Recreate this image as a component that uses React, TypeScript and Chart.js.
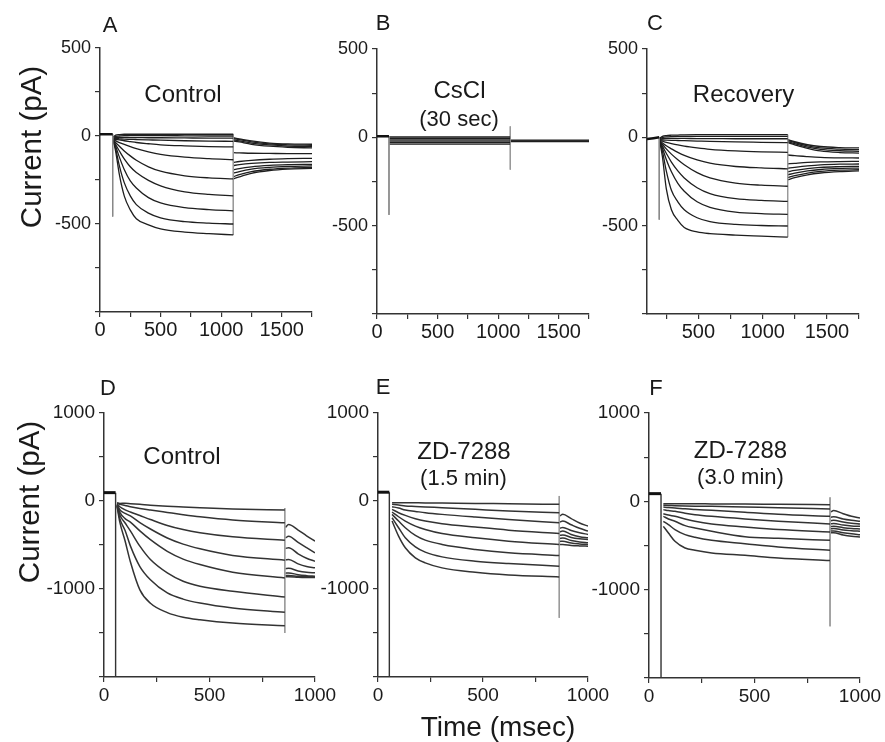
import React, { useEffect, useRef } from "react";
import { Chart, registerables } from "chart.js";
Chart.register(...registerables);

// ================= DATA =================
// ---- Panel A: Control (top) ----
const A_preT = [0, 105];
const A_preI = [10, 10];
const A_onset = [105, -458];
const A_stepT = [110, 130, 160, 200, 250, 300, 400, 500, 700, 900, 1100];
const A_step = [
  [-5, 5, 8, 10, 10, 10, 10, 10, 10, 10, 10],
  [-8, -2, 0, 2, 2, 2, 2, 2, 1, 0, 0],
  [-12, -8, -8, -8, -9, -9, -10, -10, -11, -12, -12],
  [-15, -15, -16, -18, -19, -20, -22, -24, -27, -29, -30],
  [-18, -20, -22, -27, -32, -37, -44, -50, -56, -60, -62],
  [-20, -28, -38, -48, -60, -72, -90, -104, -120, -129, -135],
  [-22, -38, -58, -85, -113, -138, -175, -200, -226, -238, -244],
  [-25, -50, -85, -130, -175, -208, -252, -283, -317, -332, -340],
  [-25, -60, -120, -190, -255, -295, -350, -380, -407, -418, -425],
  [-25, -75, -170, -265, -340, -390, -438, -465, -487, -495, -500],
  [-25, -90, -220, -340, -420, -470, -505, -528, -546, -555, -562],
];
const A_end = [1100, 10, -562];
const A_tailT = [1100, 1150, 1250, 1400, 1550, 1750];
const A_tail = [
  [-10, -16, -28, -40, -45, -47],
  [-15, -21, -33, -45, -50, -53],
  [-22, -28, -40, -51, -57, -60],
  [-28, -34, -47, -58, -64, -68],
  [-95, -96, -98, -99, -100, -100],
  [-150, -145, -138, -132, -129, -127],
  [-168, -163, -156, -150, -148, -146],
  [-193, -185, -175, -167, -163, -161],
  [-212, -202, -188, -178, -173, -170],
  [-231, -220, -203, -189, -182, -178],
  [-244, -232, -212, -196, -188, -184],
];

// ---- Panel B: CsCl (30 sec) ----
const B_preT = [0, 99];
const B_preI = [6, 6];
const B_onset = [99, -439];
const B_stepT = [100, 1099];
const B_step = [
  [2, 2],
  [-6, -6],
  [-14, -14],
  [-22, -22],
  [-30, -30],
  [-38, -38],
];
const B_end = [1100, 62, -183];
const B_tailT = [1100, 1750];
const B_tail = [
  [-16, -16],
  [-20, -20],
  [-24, -24],
];

// ---- Panel C: Recovery ----
const C_preT = [100, 150, 195];
const C_preI = [-10, -5, 0];
const C_onset = [195, -466];
const C_stepT = [200, 220, 250, 290, 340, 390, 490, 590, 790, 990, 1195];
const C_step = [
  [-5, 5, 10, 12, 13, 14, 15, 15, 15, 15, 15],
  [-8, -2, 2, 4, 5, 5, 5, 5, 5, 5, 5],
  [-12, -8, -6, -6, -6, -6, -7, -7, -8, -8, -8],
  [-15, -15, -16, -17, -18, -19, -21, -23, -26, -28, -30],
  [-18, -22, -28, -35, -43, -50, -60, -68, -77, -82, -85],
  [-20, -32, -48, -65, -85, -102, -128, -146, -165, -173, -178],
  [-22, -40, -65, -95, -127, -155, -200, -230, -259, -271, -277],
  [-25, -50, -90, -140, -190, -230, -285, -318, -347, -357, -362],
  [-25, -62, -125, -195, -260, -305, -365, -396, -423, -432, -436],
  [-25, -78, -190, -300, -365, -410, -455, -477, -493, -499, -502],
  [-25, -110, -290, -410, -470, -510, -535, -545, -553, -559, -565],
];
const C_end = [1195, 15, -565];
const C_tailT = [1195, 1250, 1350, 1450, 1600, 1750];
const C_tail = [
  [-13, -25, -42, -52, -58, -60],
  [-18, -30, -48, -60, -67, -70],
  [-24, -36, -55, -68, -76, -79],
  [-30, -42, -62, -77, -86, -89],
  [-100, -104, -109, -113, -116, -117],
  [-150, -147, -142, -139, -137, -136],
  [-175, -170, -162, -156, -152, -151],
  [-195, -187, -177, -170, -166, -164],
  [-212, -203, -190, -182, -176, -174],
  [-228, -217, -202, -193, -186, -183],
  [-240, -228, -212, -202, -194, -190],
];

// ---- Panel D: Control (bottom) ----
const D_preT = [0, 55];
const D_preI = [95, 95];
const D_onset = [55, -2000];
const D_stepT = [62, 75, 100, 125, 170, 220, 300, 375, 455, 610, 857];
const D_step = [
  [-20, -27, -25, -30, -38, -48, -60, -68, -76, -90, -103],
  [-25, -38, -50, -65, -85, -103, -130, -155, -179, -215, -247],
  [-35, -65, -100, -125, -165, -210, -278, -325, -361, -407, -445],
  [-40, -100, -140, -170, -245, -318, -420, -490, -543, -619, -673],
  [-45, -130, -200, -240, -340, -440, -572, -660, -722, -809, -874],
  [-50, -160, -250, -340, -513, -665, -817, -912, -969, -1026, -1091],
  [-55, -200, -335, -510, -745, -895, -1045, -1115, -1160, -1216, -1265],
  [-60, -240, -455, -690, -1010, -1162, -1268, -1320, -1349, -1387, -1417],
];
const D_end = [857, -80, -1500];
const D_tailT = [860, 875, 920, 960, 1000];
const D_tail = [
  [-300, -266, -330, -395, -456],
  [-420, -400, -470, -530, -589],
  [-540, -530, -600, -650, -684],
  [-670, -665, -715, -745, -760],
  [-770, -765, -795, -810, -816],
  [-820, -817, -838, -848, -854],
  [-848, -847, -856, -860, -862],
  [-860, -860, -866, -869, -870],
];

// ---- Panel E: ZD-7288 (1.5 min) ----
const E_preT = [0, 54];
const E_preI = [100, 100];
const E_onset = [54, -2000];
const E_stepT = [67, 98, 130, 178, 225, 305, 463, 622, 863];
const E_step = [
  [-19, -19, -20, -21, -22, -24, -27, -32, -38],
  [-38, -45, -57, -62, -68, -76, -95, -114, -133],
  [-65, -80, -103, -118, -133, -152, -182, -209, -247],
  [-95, -133, -163, -201, -228, -258, -296, -331, -369],
  [-125, -179, -228, -285, -323, -369, -418, -456, -494],
  [-152, -228, -304, -391, -445, -494, -551, -589, -619],
  [-190, -304, -418, -521, -581, -635, -684, -711, -741],
  [-228, -399, -532, -646, -703, -760, -810, -840, -863],
];
const E_end = [863, 57, -1328];
const E_tailT = [866, 880, 920, 960, 1000];
const E_tail = [
  [-170, -150, -200, -250, -285],
  [-240, -228, -270, -310, -342],
  [-310, -300, -335, -360, -380],
  [-350, -342, -380, -405, -418],
  [-390, -385, -415, -430, -437],
  [-425, -420, -450, -465, -475],
  [-460, -456, -478, -488, -494],
  [-494, -494, -505, -510, -513],
];

// ---- Panel F: ZD-7288 (3.0 min) ----
const F_preT = [0, 57];
const F_preI = [87, 87];
const F_onset = [57, -2000];
const F_stepT = [68, 92, 123, 171, 218, 297, 455, 613, 858];
const F_step = [
  [-26, -26, -27, -28, -28, -29, -30, -34, -38],
  [-45, -47, -50, -53, -55, -57, -65, -72, -87],
  [-64, -70, -75, -85, -92, -102, -124, -147, -170],
  [-94, -105, -113, -135, -151, -170, -200, -226, -256],
  [-140, -155, -170, -200, -226, -256, -290, -320, -347],
  [-170, -200, -226, -275, -302, -339, -400, -418, -441],
  [-226, -264, -320, -377, -407, -441, -479, -516, -554],
  [-283, -358, -452, -528, -554, -584, -611, -641, -671],
];
const F_end = [858, 45, -1415];
const F_tailT = [862, 875, 920, 960, 1000];
const F_tail = [
  [-120, -105, -140, -170, -189],
  [-180, -175, -200, -215, -226],
  [-220, -215, -235, -248, -256],
  [-255, -252, -268, -278, -283],
  [-285, -283, -298, -308, -313],
  [-310, -308, -325, -333, -339],
  [-335, -335, -355, -368, -377],
  [-355, -355, -380, -395, -403],
];

// ---- Axes ----
const TOP_Y_TICKS = [-1000, -750, -500, -250, 0, 250, 500];
const TOP_Y_LABELS = [-500, 0, 500];
const AB_X_TICKS = [0, 250, 500, 750, 1000, 1250, 1500, 1750];
const AB_X_LABELS = [0, 500, 1000, 1500];
const C_X_TICKS = [250, 500, 750, 1000, 1250, 1500, 1750];
const C_X_LABELS = [500, 1000, 1500];
const BOT_Y_TICKS = [-2000, -1500, -1000, -500, 0, 500, 1000];
const BOT_Y_LABELS = [-1000, 0, 1000];
const BOT_X_TICKS = [0, 250, 500, 750, 1000];
const BOT_X_LABELS = [0, 500, 1000];

// ================= LAYOUT / STYLE =================
const FONT = "'Liberation Sans', Arial, Helvetica, sans-serif";
const AXIS = "#333";
const TXT = "#1a1a1a";
const L = 60, PT = 16, PR = 34, BH = 40;

type Spec = {
  xr: number[]; yr: number[];
  xt: number[]; xl: number[]; yt: number[]; yl: number[];
  preT: number[]; preI: number[]; onset: number[];
  stepT: number[]; step: number[][]; end: number[];
  tailT: number[]; tail: number[][];
  area: number[]; // left, top, right, bottom (page px)
  xFont: number; yFont: number; top: boolean;
};

const SPECS: Spec[] = [
  { xr: [0, 1750], yr: [-1000, 500], xt: AB_X_TICKS, xl: AB_X_LABELS, yt: TOP_Y_TICKS, yl: TOP_Y_LABELS,
    preT: A_preT, preI: A_preI, onset: A_onset, stepT: A_stepT, step: A_step, end: A_end, tailT: A_tailT, tail: A_tail,
    area: [100, 48, 312, 312], xFont: 20, yFont: 18, top: true },
  { xr: [0, 1750], yr: [-1000, 500], xt: AB_X_TICKS, xl: AB_X_LABELS, yt: TOP_Y_TICKS, yl: TOP_Y_LABELS,
    preT: B_preT, preI: B_preI, onset: B_onset, stepT: B_stepT, step: B_step, end: B_end, tailT: B_tailT, tail: B_tail,
    area: [377, 49, 589, 314], xFont: 20, yFont: 18, top: true },
  { xr: [100, 1750], yr: [-1000, 500], xt: C_X_TICKS, xl: C_X_LABELS, yt: TOP_Y_TICKS, yl: TOP_Y_LABELS,
    preT: C_preT, preI: C_preI, onset: C_onset, stepT: C_stepT, step: C_step, end: C_end, tailT: C_tailT, tail: C_tail,
    area: [647, 49, 859, 314], xFont: 20, yFont: 18, top: true },
  { xr: [0, 1000], yr: [-2000, 1000], xt: BOT_X_TICKS, xl: BOT_X_LABELS, yt: BOT_Y_TICKS, yl: BOT_Y_LABELS,
    preT: D_preT, preI: D_preI, onset: D_onset, stepT: D_stepT, step: D_step, end: D_end, tailT: D_tailT, tail: D_tail,
    area: [104, 413, 315, 677], xFont: 19, yFont: 19, top: false },
  { xr: [0, 1000], yr: [-2000, 1000], xt: BOT_X_TICKS, xl: BOT_X_LABELS, yt: BOT_Y_TICKS, yl: BOT_Y_LABELS,
    preT: E_preT, preI: E_preI, onset: E_onset, stepT: E_stepT, step: E_step, end: E_end, tailT: E_tailT, tail: E_tail,
    area: [378, 413, 588, 677], xFont: 19, yFont: 19, top: false },
  { xr: [0, 1000], yr: [-2000, 1000], xt: BOT_X_TICKS, xl: BOT_X_LABELS, yt: BOT_Y_TICKS, yl: BOT_Y_LABELS,
    preT: F_preT, preI: F_preI, onset: F_onset, stepT: F_stepT, step: F_step, end: F_end, tailT: F_tailT, tail: F_tail,
    area: [649, 413, 860, 678], xFont: 19, yFont: 19, top: false },
];

const TEXTS = [
  { t: "A", x: 110, y: 25, s: 22 },
  { t: "B", x: 383, y: 23, s: 22 },
  { t: "C", x: 655, y: 23, s: 22 },
  { t: "D", x: 108, y: 388, s: 22 },
  { t: "E", x: 383, y: 387, s: 22 },
  { t: "F", x: 656, y: 388, s: 22 },
  { t: "Control", x: 183, y: 93.5, s: 24 },
  { t: "CsCl", x: 459.5, y: 89.5, s: 24 },
  { t: "(30 sec)", x: 459, y: 118.5, s: 22 },
  { t: "Recovery", x: 743.5, y: 94, s: 24 },
  { t: "Control", x: 182, y: 455.5, s: 24 },
  { t: "ZD-7288", x: 464, y: 451, s: 24 },
  { t: "(1.5 min)", x: 463.5, y: 477.5, s: 22 },
  { t: "ZD-7288", x: 740.5, y: 449.5, s: 24 },
  { t: "(3.0 min)", x: 740.5, y: 477, s: 22 },
  { t: "Time (msec)", x: 498, y: 727, s: 28 },
];
const YTITLES = [
  { t: "Current (pA)", x: 31, y: 147, s: 29.5 },
  { t: "Current (pA)", x: 29, y: 502, s: 29.5 },
];

const pts = (xs: number[], ys: number[]) => xs.map((x, i) => ({ x, y: ys[i] }));

function buildDatasets(s: Spec) {
  const trace = s.top ? "#1e1e1e" : "#333";
  const tw = s.top ? 1.3 : 1.5;
  const ds: any[] = [];
  const base = { pointRadius: 0, fill: false, tension: 0 };
  ds.push({ ...base, data: pts(s.preT, s.preI), borderColor: "#111", borderWidth: s.top ? 2.5 : 3 });
  const lastPre = s.preI[s.preI.length - 1];
  ds.push({ ...base, data: [{ x: s.onset[0], y: lastPre }, { x: s.onset[0], y: s.onset[1] }],
    borderColor: s.top ? "#888" : "#333", borderWidth: s.top ? 1 : 1.4 });
  s.step.forEach((row) =>
    ds.push({ ...base, data: pts(s.stepT, row), borderColor: trace, borderWidth: tw, cubicInterpolationMode: "monotone" })
  );
  ds.push({ ...base, data: [{ x: s.end[0], y: s.end[1] }, { x: s.end[0], y: s.end[2] }],
    borderColor: "#999", borderWidth: 1 });
  s.tail.forEach((row) =>
    ds.push({ ...base, data: pts(s.tailT, row), borderColor: trace, borderWidth: tw, cubicInterpolationMode: "monotone" })
  );
  return ds;
}

function Panel({ s }: { s: Spec }) {
  const ref = useRef<HTMLCanvasElement>(null);
  const [l, t, r, b] = s.area;
  const w = L + (r - l) + PR;
  const h = PT + (b - t) + BH;
  useEffect(() => {
    const chart = new Chart(ref.current as HTMLCanvasElement, {
      type: "line",
      data: { datasets: buildDatasets(s) },
      options: {
        responsive: false,
        animation: false,
        devicePixelRatio: 1,
        events: [],
        layout: { padding: { left: 0, top: PT, right: PR, bottom: 0 } },
        plugins: { legend: { display: false }, tooltip: { enabled: false } },
        elements: { point: { radius: 0 } },
        scales: {
          x: {
            type: "linear",
            min: s.xr[0],
            max: s.xr[1],
            grid: { display: true, drawOnChartArea: false, drawTicks: true, tickLength: 5, color: AXIS, lineWidth: 1.2 },
            border: { display: true, color: AXIS, width: 1.5 },
            ticks: {
              color: TXT,
              font: { family: FONT, size: s.xFont },
              padding: s.top ? 1 : 2,
              maxRotation: 0,
              autoSkip: false,
              callback: (v: any) => (s.xl.includes(Number(v)) ? String(v) : ""),
            },
            afterBuildTicks: (sc: any) => {
              sc.ticks = s.xt.map((v) => ({ value: v }));
            },
            afterFit: (sc: any) => {
              sc.height = BH;
            },
          },
          y: {
            type: "linear",
            min: s.yr[0],
            max: s.yr[1],
            grid: { display: true, drawOnChartArea: false, drawTicks: true, tickLength: 5, color: AXIS, lineWidth: 1.2 },
            border: { display: true, color: AXIS, width: 1.5 },
            ticks: {
              color: TXT,
              font: { family: FONT, size: s.yFont },
              padding: 4,
              autoSkip: false,
              callback: (v: any) => (s.yl.includes(Number(v)) ? String(v) : ""),
            },
            afterBuildTicks: (sc: any) => {
              sc.ticks = s.yt.map((v) => ({ value: v }));
            },
            afterFit: (sc: any) => {
              sc.width = L;
            },
          },
        },
      } as any,
    });
    return () => chart.destroy();
  }, []);
  return (
    <canvas
      ref={ref}
      width={w}
      height={h}
      style={{ position: "absolute", left: l - L, top: t - PT, width: w, height: h }}
    />
  );
}

export default function App() {
  return (
    <div style={{ position: "absolute", left: 0, top: 0, width: 885, height: 742, background: "#fff", overflow: "hidden", fontFamily: FONT }}>
      {SPECS.map((s, i) => (
        <Panel key={i} s={s} />
      ))}
      {TEXTS.map((o, i) => (
        <div
          key={"t" + i}
          style={{
            position: "absolute", left: o.x, top: o.y, transform: "translate(-50%, -50%)",
            fontSize: o.s, lineHeight: 1, whiteSpace: "nowrap", color: TXT,
          }}
        >
          {o.t}
        </div>
      ))}
      {YTITLES.map((o, i) => (
        <div
          key={"y" + i}
          style={{
            position: "absolute", left: o.x, top: o.y, transform: "translate(-50%, -50%) rotate(-90deg)",
            fontSize: o.s, lineHeight: 1, whiteSpace: "nowrap", color: TXT,
          }}
        >
          {o.t}
        </div>
      ))}
    </div>
  );
}
